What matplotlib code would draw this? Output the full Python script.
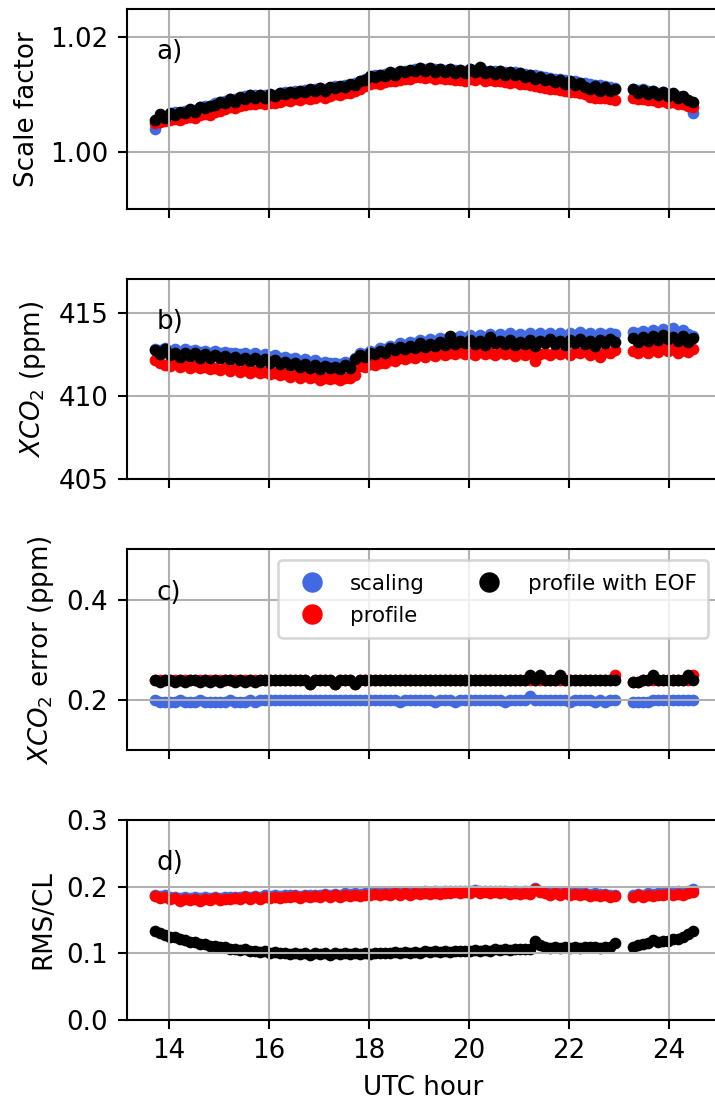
import numpy as np
import matplotlib.pyplot as plt

# retrieval times (UTC hour); gap between the two overpass segments
hours = [
    13.73, 13.83, 13.93, 14.03, 14.13, 14.23, 14.33, 14.43, 14.53, 14.63,
    14.73, 14.83, 14.93, 15.03, 15.13, 15.23, 15.33, 15.43, 15.53, 15.63,
    15.73, 15.83, 15.93, 16.03, 16.13, 16.23, 16.33, 16.43, 16.53, 16.63,
    16.73, 16.83, 16.93, 17.03, 17.13, 17.23, 17.33, 17.43, 17.53, 17.63,
    17.73, 17.83, 17.93, 18.03, 18.13, 18.23, 18.33, 18.43, 18.53, 18.63,
    18.73, 18.83, 18.93, 19.03, 19.13, 19.23, 19.33, 19.43, 19.53, 19.63,
    19.73, 19.83, 19.93, 20.03, 20.13, 20.23, 20.33, 20.43, 20.53, 20.63,
    20.73, 20.83, 20.93, 21.03, 21.13, 21.23, 21.33, 21.43, 21.53, 21.63,
    21.73, 21.83, 21.93, 22.03, 22.13, 22.23, 22.33, 22.43, 22.53, 22.63,
    22.73, 22.83, 22.93,
    23.28, 23.38, 23.48, 23.58, 23.68, 23.78, 23.88, 23.98, 24.08, 24.18,
    24.28, 24.38, 24.48,
]

# a) scale factor
sf_scaling = [
    1.0040, 1.0052, 1.0057, 1.0064, 1.0069, 1.0068, 1.0072, 1.0074, 1.0074, 1.0078,
    1.0081, 1.0080, 1.0085, 1.0087, 1.0089, 1.0093, 1.0092, 1.0095, 1.0097, 1.0099,
    1.0099, 1.0100, 1.0099, 1.0100, 1.0100, 1.0102, 1.0104, 1.0104, 1.0106, 1.0106,
    1.0108, 1.0107, 1.0109, 1.0111, 1.0110, 1.0112, 1.0115, 1.0114, 1.0117, 1.0117,
    1.0120, 1.0123, 1.0128, 1.0131, 1.0134, 1.0134, 1.0136, 1.0138, 1.0138, 1.0140,
    1.0142, 1.0142, 1.0145, 1.0147, 1.0145, 1.0146, 1.0144, 1.0145, 1.0143, 1.0144,
    1.0143, 1.0143, 1.0142, 1.0144, 1.0143, 1.0147, 1.0142, 1.0142, 1.0141, 1.0141,
    1.0140, 1.0139, 1.0139, 1.0137, 1.0136, 1.0134, 1.0134, 1.0132, 1.0131, 1.0129,
    1.0128, 1.0127, 1.0125, 1.0124, 1.0123, 1.0121, 1.0120, 1.0118, 1.0117, 1.0116,
    1.0115, 1.0113, 1.0111,
    1.0110, 1.0108, 1.0109, 1.0106, 1.0106, 1.0103, 1.0104, 1.0101, 1.0101, 1.0098,
    1.0093, 1.0086, 1.0068,
]
sf_profile = [
    1.0050, 1.0053, 1.0054, 1.0055, 1.0057, 1.0055, 1.0059, 1.0061, 1.0060, 1.0064,
    1.0066, 1.0065, 1.0070, 1.0072, 1.0075, 1.0078, 1.0077, 1.0080, 1.0082, 1.0083,
    1.0083, 1.0085, 1.0084, 1.0086, 1.0085, 1.0088, 1.0090, 1.0089, 1.0092, 1.0091,
    1.0094, 1.0092, 1.0095, 1.0097, 1.0095, 1.0098, 1.0101, 1.0099, 1.0103, 1.0102,
    1.0106, 1.0110, 1.0115, 1.0118, 1.0120, 1.0119, 1.0122, 1.0124, 1.0123, 1.0126,
    1.0128, 1.0127, 1.0130, 1.0131, 1.0129, 1.0130, 1.0128, 1.0129, 1.0127, 1.0127,
    1.0126, 1.0126, 1.0124, 1.0127, 1.0125, 1.0129, 1.0124, 1.0125, 1.0123, 1.0124,
    1.0122, 1.0121, 1.0122, 1.0119, 1.0118, 1.0116, 1.0115, 1.0113, 1.0112, 1.0110,
    1.0109, 1.0108, 1.0106, 1.0105, 1.0104, 1.0102, 1.0101, 1.0096, 1.0095, 1.0094,
    1.0095, 1.0093, 1.0091,
    1.0094, 1.0092, 1.0093, 1.0090, 1.0091, 1.0088, 1.0089, 1.0086, 1.0087, 1.0084,
    1.0083, 1.0081, 1.0078,
]
sf_eof = [
    1.0055, 1.0066, 1.0059, 1.0068, 1.0065, 1.0070, 1.0068, 1.0075, 1.0070, 1.0079,
    1.0076, 1.0081, 1.0082, 1.0088, 1.0085, 1.0093, 1.0088, 1.0096, 1.0093, 1.0099,
    1.0094, 1.0100, 1.0095, 1.0101, 1.0097, 1.0103, 1.0101, 1.0105, 1.0102, 1.0107,
    1.0104, 1.0109, 1.0106, 1.0112, 1.0107, 1.0113, 1.0112, 1.0115, 1.0113, 1.0118,
    1.0117, 1.0124, 1.0125, 1.0132, 1.0131, 1.0135, 1.0133, 1.0139, 1.0135, 1.0141,
    1.0139, 1.0143, 1.0142, 1.0147, 1.0141, 1.0146, 1.0140, 1.0145, 1.0140, 1.0144,
    1.0138, 1.0143, 1.0137, 1.0144, 1.0139, 1.0148, 1.0137, 1.0142, 1.0136, 1.0141,
    1.0135, 1.0139, 1.0135, 1.0137, 1.0131, 1.0134, 1.0128, 1.0131, 1.0125, 1.0128,
    1.0122, 1.0126, 1.0119, 1.0123, 1.0117, 1.0120, 1.0114, 1.0109, 1.0115, 1.0107,
    1.0114, 1.0106, 1.0109,
    1.0109, 1.0103, 1.0108, 1.0101, 1.0106, 1.0099, 1.0104, 1.0097, 1.0102, 1.0095,
    1.0098, 1.0090, 1.0088,
]

# b) XCO2 (ppm)
xco2_scaling = [
    412.80, 412.75, 412.85, 412.70, 412.80, 412.65, 412.80, 412.70, 412.75, 412.65,
    412.70, 412.60, 412.70, 412.60, 412.65, 412.55, 412.60, 412.50, 412.60, 412.45,
    412.55, 412.40, 412.50, 412.35, 412.45, 412.25, 412.35, 412.20, 412.30, 412.10,
    412.20, 412.05, 412.15, 411.95, 412.05, 411.95, 412.00, 411.90, 412.05, 411.95,
    412.30, 412.55, 412.50, 412.70, 412.65, 412.85, 412.80, 413.00, 412.95, 413.15,
    413.05, 413.25, 413.15, 413.35, 413.25, 413.40, 413.30, 413.50, 413.40, 413.55,
    413.45, 413.60, 413.50, 413.65, 413.50, 413.65, 413.50, 413.70, 413.55, 413.70,
    413.55, 413.75, 413.55, 413.70, 413.55, 413.75, 413.60, 413.75, 413.60, 413.80,
    413.60, 413.80, 413.60, 413.80, 413.65, 413.85, 413.65, 413.80, 413.60, 413.80,
    413.65, 413.80, 413.70,
    413.85, 413.75, 413.90, 413.80, 413.95, 413.85, 414.00, 413.90, 414.05, 413.85,
    413.95, 413.70, 413.60,
]
xco2_profile = [
    412.15, 411.95, 411.85, 411.80, 411.90, 411.75, 411.85, 411.70, 411.80, 411.65,
    411.75, 411.60, 411.70, 411.55, 411.65, 411.50, 411.60, 411.45, 411.55, 411.40,
    411.50, 411.35, 411.45, 411.30, 411.40, 411.25, 411.30, 411.15, 411.25, 411.10,
    411.20, 411.05, 411.15, 410.95, 411.10, 411.00, 411.10, 410.95, 411.10, 411.05,
    411.25, 411.80, 411.75, 411.90, 411.85, 412.00, 411.95, 412.15, 412.10, 412.25,
    412.20, 412.35, 412.30, 412.45, 412.35, 412.50, 412.40, 412.55, 412.45, 412.60,
    412.50, 412.65, 412.50, 412.60, 412.45, 412.65, 412.50, 412.60, 412.45, 412.65,
    412.50, 412.60, 412.40, 412.60, 412.45, 412.55, 412.10, 412.50, 412.60, 412.45,
    412.65, 412.50, 412.65, 412.45, 412.65, 412.55, 412.70, 412.45, 412.60, 412.35,
    412.65, 412.55, 412.75,
    412.70, 412.55, 412.75, 412.60, 412.80, 412.65, 412.85, 412.70, 412.80, 412.55,
    412.75, 412.65, 412.80,
]
xco2_eof = [
    412.75, 412.50, 412.80, 412.45, 412.60, 412.35, 412.55, 412.40, 412.60, 412.30,
    412.50, 412.25, 412.45, 412.30, 412.40, 412.20, 412.35, 412.15, 412.30, 412.10,
    412.25, 412.05, 412.20, 412.00, 412.15, 411.90, 412.05, 411.85, 412.00, 411.75,
    411.90, 411.70, 411.85, 411.60, 411.80, 411.65, 411.75, 411.60, 411.85, 411.70,
    412.20, 412.45, 412.35, 412.60, 412.50, 412.70, 412.60, 412.85, 412.75, 412.95,
    412.80, 413.00, 412.90, 413.15, 412.95, 413.10, 413.00, 413.25, 413.05, 413.60,
    413.10, 413.30, 413.15, 413.35, 413.10, 413.30, 413.05, 413.55, 413.15, 413.30,
    413.10, 413.35, 413.05, 413.25, 413.10, 413.35, 413.00, 413.30, 413.15, 413.40,
    413.10, 413.30, 413.05, 413.35, 413.15, 413.40, 413.10, 413.30, 413.00, 413.35,
    413.15, 413.40, 413.25,
    413.50, 413.25, 413.55, 413.30, 413.60, 413.35, 413.65, 413.40, 413.55, 413.30,
    413.60, 413.25, 413.45,
]

# c) XCO2 error (ppm)
err_scaling = [
    0.200, 0.196, 0.196, 0.196, 0.196, 0.200, 0.196, 0.196, 0.196, 0.200,
    0.196, 0.196, 0.196, 0.196, 0.196, 0.200, 0.196, 0.196, 0.196, 0.200,
    0.196, 0.200, 0.200, 0.199, 0.200, 0.200, 0.200, 0.199, 0.200, 0.200,
    0.200, 0.200, 0.199, 0.200, 0.200, 0.200, 0.200, 0.199, 0.200, 0.200,
    0.200, 0.200, 0.200, 0.199, 0.200, 0.200, 0.200, 0.200, 0.200, 0.195,
    0.200, 0.200, 0.200, 0.200, 0.200, 0.200, 0.195, 0.200, 0.200, 0.200,
    0.195, 0.200, 0.200, 0.200, 0.200, 0.200, 0.200, 0.200, 0.200, 0.200,
    0.195, 0.200, 0.200, 0.200, 0.200, 0.208, 0.200, 0.200, 0.200, 0.200,
    0.200, 0.200, 0.200, 0.195, 0.200, 0.200, 0.200, 0.200, 0.195, 0.200,
    0.195, 0.200, 0.200,
    0.195, 0.195, 0.196, 0.195, 0.200, 0.200, 0.200, 0.200, 0.200, 0.200,
    0.200, 0.200, 0.200,
]
err_profile = [
    0.240, 0.240, 0.240, 0.240, 0.240, 0.240, 0.240, 0.240, 0.240, 0.240,
    0.240, 0.240, 0.240, 0.240, 0.240, 0.240, 0.240, 0.240, 0.240, 0.240,
    0.240, 0.240, 0.240, 0.240, 0.240, 0.240, 0.240, 0.240, 0.240, 0.240,
    0.240, 0.232, 0.240, 0.240, 0.240, 0.240, 0.232, 0.240, 0.240, 0.240,
    0.232, 0.240, 0.240, 0.240, 0.240, 0.240, 0.240, 0.240, 0.240, 0.240,
    0.240, 0.240, 0.240, 0.240, 0.240, 0.240, 0.240, 0.240, 0.240, 0.240,
    0.240, 0.240, 0.240, 0.240, 0.240, 0.240, 0.240, 0.240, 0.240, 0.240,
    0.240, 0.240, 0.240, 0.240, 0.240, 0.240, 0.240, 0.240, 0.240, 0.240,
    0.240, 0.240, 0.240, 0.240, 0.240, 0.240, 0.240, 0.240, 0.240, 0.240,
    0.240, 0.240, 0.250,
    0.235, 0.236, 0.240, 0.240, 0.240, 0.240, 0.240, 0.240, 0.240, 0.240,
    0.240, 0.240, 0.250,
]
err_eof = [
    0.240, 0.236, 0.240, 0.240, 0.236, 0.240, 0.236, 0.240, 0.240, 0.236,
    0.240, 0.236, 0.240, 0.236, 0.240, 0.240, 0.236, 0.240, 0.236, 0.240,
    0.236, 0.240, 0.240, 0.240, 0.240, 0.240, 0.240, 0.240, 0.240, 0.240,
    0.240, 0.232, 0.240, 0.240, 0.240, 0.240, 0.232, 0.240, 0.240, 0.240,
    0.232, 0.240, 0.240, 0.240, 0.240, 0.240, 0.240, 0.240, 0.240, 0.240,
    0.240, 0.240, 0.240, 0.240, 0.240, 0.240, 0.240, 0.240, 0.240, 0.240,
    0.240, 0.240, 0.240, 0.240, 0.240, 0.240, 0.240, 0.240, 0.240, 0.240,
    0.240, 0.240, 0.240, 0.240, 0.240, 0.250, 0.240, 0.250, 0.240, 0.240,
    0.240, 0.250, 0.240, 0.240, 0.240, 0.240, 0.240, 0.240, 0.240, 0.240,
    0.240, 0.240, 0.240,
    0.235, 0.236, 0.240, 0.240, 0.249, 0.240, 0.240, 0.240, 0.240, 0.240,
    0.240, 0.249, 0.240,
]

# d) RMS/CL
rms_scaling = [
    0.188, 0.186, 0.187, 0.185, 0.185, 0.183, 0.184, 0.183, 0.184, 0.183,
    0.184, 0.183, 0.185, 0.183, 0.184, 0.184, 0.185, 0.184, 0.186, 0.185,
    0.186, 0.185, 0.187, 0.186, 0.187, 0.186, 0.187, 0.187, 0.188, 0.186,
    0.188, 0.187, 0.188, 0.187, 0.189, 0.188, 0.189, 0.188, 0.190, 0.189,
    0.190, 0.189, 0.190, 0.190, 0.191, 0.190, 0.191, 0.190, 0.192, 0.191,
    0.192, 0.191, 0.192, 0.192, 0.193, 0.192, 0.193, 0.192, 0.193, 0.193,
    0.194, 0.193, 0.194, 0.193, 0.195, 0.193, 0.194, 0.193, 0.194, 0.193,
    0.194, 0.192, 0.193, 0.192, 0.193, 0.192, 0.198, 0.194, 0.192, 0.191,
    0.192, 0.191, 0.192, 0.190, 0.191, 0.190, 0.191, 0.189, 0.190, 0.189,
    0.189, 0.188, 0.188,
    0.188, 0.189, 0.188, 0.190, 0.189, 0.191, 0.190, 0.192, 0.191, 0.193,
    0.192, 0.194, 0.196,
]
rms_profile = [
    0.186, 0.183, 0.185, 0.181, 0.183, 0.179, 0.182, 0.180, 0.182, 0.179,
    0.182, 0.180, 0.183, 0.180, 0.182, 0.181, 0.183, 0.181, 0.184, 0.182,
    0.184, 0.182, 0.185, 0.183, 0.185, 0.183, 0.185, 0.184, 0.186, 0.183,
    0.186, 0.184, 0.186, 0.184, 0.187, 0.185, 0.187, 0.185, 0.188, 0.186,
    0.188, 0.186, 0.188, 0.187, 0.189, 0.187, 0.189, 0.187, 0.190, 0.188,
    0.190, 0.188, 0.190, 0.189, 0.191, 0.189, 0.191, 0.189, 0.191, 0.190,
    0.192, 0.190, 0.192, 0.190, 0.193, 0.190, 0.192, 0.190, 0.192, 0.190,
    0.192, 0.189, 0.191, 0.189, 0.191, 0.189, 0.197, 0.192, 0.190, 0.188,
    0.190, 0.188, 0.190, 0.187, 0.189, 0.187, 0.189, 0.186, 0.188, 0.186,
    0.187, 0.185, 0.186,
    0.185, 0.187, 0.185, 0.188, 0.186, 0.188, 0.187, 0.189, 0.187, 0.189,
    0.188, 0.190, 0.192,
]
rms_eof = [
    0.134, 0.130, 0.128, 0.125, 0.124, 0.121, 0.120, 0.117, 0.117, 0.114,
    0.114, 0.111, 0.111, 0.109, 0.110, 0.107, 0.107, 0.105, 0.106, 0.104,
    0.104, 0.102, 0.103, 0.101, 0.102, 0.100, 0.101, 0.099, 0.101, 0.099,
    0.100, 0.098, 0.100, 0.099, 0.100, 0.098, 0.100, 0.099, 0.100, 0.099,
    0.100, 0.099, 0.101, 0.099, 0.101, 0.100, 0.101, 0.100, 0.102, 0.100,
    0.102, 0.101, 0.102, 0.101, 0.103, 0.102, 0.103, 0.102, 0.104, 0.102,
    0.104, 0.103, 0.104, 0.103, 0.105, 0.104, 0.105, 0.104, 0.106, 0.105,
    0.106, 0.105, 0.107, 0.106, 0.107, 0.106, 0.118, 0.112, 0.110, 0.108,
    0.109, 0.108, 0.110, 0.108, 0.110, 0.108, 0.110, 0.109, 0.110, 0.108,
    0.110, 0.109, 0.116,
    0.110, 0.112, 0.114, 0.115, 0.120, 0.117, 0.119, 0.118, 0.121, 0.122,
    0.125, 0.129, 0.134,
]

labels = ['scaling', 'profile', 'profile with EOF']
colors = ['royalblue', 'red', 'black']

panels = [
    ([sf_scaling, sf_profile, sf_eof], 'Scale factor', (0.99, 1.025), [1.00, 1.02], 'a)'),
    ([xco2_scaling, xco2_profile, xco2_eof], r'$XCO_2$ (ppm)', (405, 417), [405, 410, 415], 'b)'),
    ([err_scaling, err_profile, err_eof], r'$XCO_2$ error (ppm)', (0.1, 0.5), [0.2, 0.4], 'c)'),
    ([rms_scaling, rms_profile, rms_eof], 'RMS/CL', (0.0, 0.3), [0.0, 0.1, 0.2, 0.3], 'd)'),
]

dpi = 188
fig, axes = plt.subplots(4, 1, figsize=(715 / dpi, 1103 / dpi), dpi=dpi, sharex=True)
fig.subplots_adjust(left=0.177, right=1.0056, top=0.992, bottom=0.0752, hspace=0.35)

for ax, (series, ylabel, ylim, yticks, tag) in zip(axes, panels):
    for values, label, color in zip(series, labels, colors):
        ax.scatter(hours, values, s=20, c=color, linewidths=0, label=label)
    ax.set_ylabel(ylabel)
    ax.set_ylim(ylim)
    ax.set_yticks(yticks)
    ax.grid(True)
    ax.text(0.05, 0.75, tag, transform=ax.transAxes)

axes[2].legend(loc='upper right', ncol=2, markerscale=1.75, fontsize=8.2,
               handleheight=1.2, labelspacing=0.45, borderpad=0.55)
axes[3].set_xlim(13.16, 25.0)
axes[3].set_xlabel('UTC hour')

fig.savefig('out.png', dpi=dpi)
